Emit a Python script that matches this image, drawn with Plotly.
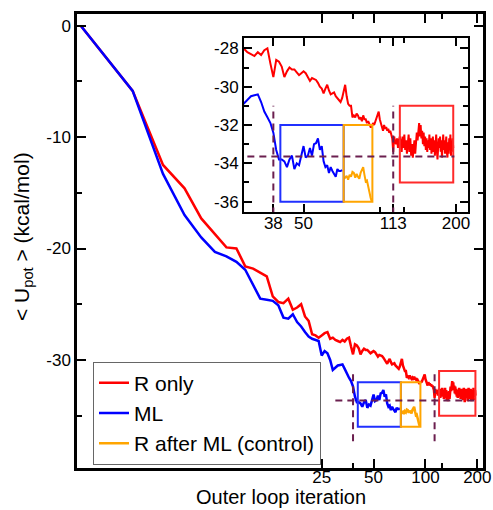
import plotly.graph_objects as go
import math

# ---------------- data ----------------
# "R only": outer-loop iterations 1..195
red_y = [
    0.0, -5.85, -12.5, -14.6, -17.3, -18.7, -19.9, -20.0, -21.6, -21.8,
    -22.2, -22.5, -24.3, -24.8, -24.9, -24.5, -25.5, -25.3, -25.0, -26.1,
    -26.5, -27.7, -27.8, -28.0, -27.8, -27.6, -27.5, -28.1, -28.0, -28.2,
    -28.3, -28.4, -28.2, -28.35, -28.1, -28.0, -28.8, -29.5, -28.6, -28.7,
    -28.95, -29.5, -29.2, -29.0, -29.1, -29.1, -29.25, -29.4, -29.3, -29.2,
    -29.3, -29.5, -29.7, -29.55, -29.6, -29.65, -29.8, -30.0, -30.1, -30.35,
    -30.1, -29.9, -30.2, -30.4, -30.35, -30.3, -30.5, -30.6, -30.7, -30.8,
    -30.6, -30.2, -29.9, -30.5, -30.9, -31.0, -31.0, -31.6, -31.5, -31.6,
    -31.4, -31.5, -31.7, -31.6, -31.8, -31.5, -31.7, -31.7, -31.9, -31.8,
    -32.0, -32.1, -32.1, -31.9, -32.0, -31.8, -31.7, -31.5, -31.3, -31.7,
    -32.0, -32.1, -32.3, -32.0, -32.2, -32.1, -32.3, -32.2, -32.4, -32.3,
    -32.5, -32.7, -33.4, -32.6, -32.9, -33.0, -32.7, -33.2, -32.8, -32.6,
    -32.9, -33.4, -32.6, -33.2, -32.5, -33.3, -32.8, -33.5, -33.0, -32.5,
    -33.4, -32.7, -33.6, -33.0, -33.7, -33.1, -32.8, -33.5, -32.6, -32.4,
    -32.8, -32.2, -31.9, -32.6, -32.0, -32.7, -32.3, -33.0, -32.4, -33.1,
    -32.6, -33.3, -32.7, -33.4, -32.8, -33.2, -32.5, -33.3, -32.7, -33.5,
    -32.9, -32.6, -33.4, -32.8, -33.6, -33.0, -32.5, -33.3, -33.8, -33.2,
    -32.7, -33.2, -32.6, -33.4, -32.8, -33.7, -32.9, -32.5, -33.3, -32.8,
    -33.5, -32.9, -32.6, -33.4, -33.7, -32.9, -33.5, -32.7, -33.3, -32.5,
    -33.6, -32.9, -33.4, -32.7, -33.2,
]
# "ML": iterations 1..71
blue_y = [
    0.0, -5.85, -13.3, -17.0, -19.0, -20.3, -20.7, -21.2, -21.9, -23.3,
    -24.5, -24.6, -24.7, -25.1, -26.2, -26.3, -25.9, -26.6, -27.0, -27.5,
    -27.9, -28.1, -28.2, -28.3, -29.6, -29.2, -29.4, -30.0, -30.9, -30.7,
    -30.5, -30.45, -30.4, -30.8, -31.3, -31.6, -31.9, -32.4, -33.3, -33.8,
    -33.8, -33.9, -34.2, -33.8, -33.6, -34.3, -34.0, -34.1, -33.6, -33.1,
    -33.7, -33.6, -33.2, -33.6, -33.0, -32.95, -32.7, -33.3, -33.1, -33.9,
    -34.2, -34.1, -34.5, -34.2, -34.4, -34.6, -34.7, -34.3, -34.4, -34.4,
    -34.35,
]
# "R after ML (control)": iterations 72..93
orange_start = 72
orange_y = [
    -34.8, -34.75, -34.65, -34.85, -34.6, -34.7, -34.45, -34.5, -34.75, -34.55,
    -34.7, -34.8, -34.5, -34.3, -34.2, -34.6, -34.95, -34.9, -35.3, -35.5,
    -35.8, -36.0,
]

red_x = list(range(1, len(red_y) + 1))
blue_x = list(range(1, len(blue_y) + 1))
orange_x = list(range(orange_start, orange_start + len(orange_y)))

series_names = ["R only", "ML", "R after ML (control)"]
series_colors = ["#ff0000", "#0000ff", "#ffa500"]

# highlight boxes (x0, x1, y0, y1)
box_x0 = [40.5, 72, 120]
box_x1 = [72, 93.5, 195]
box_y0 = [-36, -36, -35]
box_y1 = [-32, -32, -31]
box_colors = ["#2030ff", "#ffa500", "#ff2a2a"]

# dashed reference lines
vline_x = [38, 113]
vline_y = [-37.3, -31.0]
hline_y = -33.65
hline_x = [30, 197]
ref_color = "#6b1f4f"

# axis ticks
main_xticks = [25, 50, 100, 200]
main_xminor = [38, 125]
main_yticks = [0, -10, -20, -30]
main_yminor = [-5, -15, -25, -35]
inset_xticks = [38, 50, 113, 200]
inset_xminor = [100, 125]
inset_yticks = [-28, -30, -32, -34, -36]
inset_yminor = [-29, -31, -33, -35]

FONT = "Liberation Sans, Arial, sans-serif"

fig = go.Figure()

xs = [red_x, blue_x, orange_x]
ys = [red_y, blue_y, orange_y]
for name, col, x, y in zip(series_names, series_colors, xs, ys):
    fig.add_trace(go.Scatter(x=x, y=y, mode="lines", name=name,
                             line=dict(color=col, width=2.5),
                             xaxis="x", yaxis="y"))
for name, col, x, y in zip(series_names, series_colors, xs, ys):
    fig.add_trace(go.Scatter(x=x, y=y, mode="lines", name=name, showlegend=False,
                             line=dict(color=col, width=2),
                             xaxis="x2", yaxis="y2"))

shapes = []
for xr, yr, lw in (("x", "y", 2), ("x2", "y2", 2)):
    for x0, x1, y0, y1, c in zip(box_x0, box_x1, box_y0, box_y1, box_colors):
        shapes.append(dict(type="rect", xref=xr, yref=yr, x0=x0, x1=x1, y0=y0, y1=y1,
                           line=dict(color=c, width=lw), fillcolor="rgba(0,0,0,0)",
                           layer="above"))
    for vx in vline_x:
        shapes.append(dict(type="line", xref=xr, yref=yr, x0=vx, x1=vx,
                           y0=vline_y[0], y1=vline_y[1],
                           line=dict(color=ref_color, width=2, dash="7px,5px")))
    shapes.append(dict(type="line", xref=xr, yref=yr, x0=hline_x[0], x1=hline_x[1],
                       y0=hline_y, y1=hline_y,
                       line=dict(color=ref_color, width=2, dash="7px,5px")))

W, H = 493, 510
ML_, MR_, MT_, MB_ = 77, 10, 14, 42
pw, ph = W - ML_ - MR_, H - MT_ - MB_


def px_to_xdom(px):
    return (px - ML_) / pw


def px_to_ydom(py):
    return (H - MB_ - py) / ph


axis_common = dict(showline=True, linecolor="black", mirror="ticks", ticks="inside",
                   tickcolor="black", showgrid=False, zeroline=False, automargin=False,
                   tickfont=dict(family=FONT, size=17, color="black"))

fig.update_layout(
    width=W, height=H,
    margin=dict(l=ML_, r=MR_, t=MT_, b=MB_, autoexpand=False),
    paper_bgcolor="white", plot_bgcolor="white",
    font=dict(family=FONT, color="black"),
    shapes=shapes,
    xaxis=dict(type="log", range=[-0.022, 2.334], domain=[0, 1],
               tickmode="array", tickvals=main_xticks,
               ticktext=[str(v) for v in main_xticks],
               ticklen=9, tickwidth=2, linewidth=2.5, ticklabelstandoff=-8,
               minor=dict(tickmode="array", tickvals=main_xminor, ticks="inside",
                          ticklen=5, tickwidth=2, tickcolor="black"),
               anchor="y", **axis_common),
    yaxis=dict(range=[-39.7, 1.05], domain=[0, 1],
               tickmode="array", tickvals=main_yticks,
               ticktext=[str(v) for v in main_yticks],
               ticklen=9, tickwidth=2, linewidth=2.5,
               minor=dict(tickmode="array", tickvals=main_yminor, ticks="inside",
                          ticklen=5, tickwidth=2, tickcolor="black"),
               anchor="x", **axis_common),
    xaxis2=dict(type="log", range=[math.log10(29.1), math.log10(223)],
                domain=[px_to_xdom(244), px_to_xdom(468)],
                tickmode="array", tickvals=inset_xticks,
                ticktext=[str(v) for v in inset_xticks],
                ticklen=8, tickwidth=2, linewidth=2, ticklabelstandoff=-5,
                minor=dict(tickmode="array", tickvals=inset_xminor, ticks="inside",
                           ticklen=5, tickwidth=2, tickcolor="black"),
                anchor="y2", **axis_common),
    yaxis2=dict(range=[-36.54, -27.46],
                domain=[px_to_ydom(212), px_to_ydom(38)],
                tickmode="array", tickvals=inset_yticks,
                ticktext=[str(v) for v in inset_yticks],
                ticklen=8, tickwidth=2, linewidth=2,
                minor=dict(tickmode="array", tickvals=inset_yminor, ticks="inside",
                           ticklen=5, tickwidth=2, tickcolor="black"),
                anchor="x2", **axis_common),
    legend=dict(x=px_to_xdom(93), y=px_to_ydom(413), xanchor="left", yanchor="middle",
                bgcolor="white", bordercolor="#666666", borderwidth=1,
                font=dict(family=FONT, size=21, color="black"),
                tracegroupgap=0, itemwidth=30),
    showlegend=True,
    annotations=[
        dict(text="Outer loop iteration", xref="paper", yref="paper",
             x=px_to_xdom(281), y=px_to_ydom(497), xanchor="center", yanchor="middle",
             showarrow=False, borderpad=0,
             font=dict(family=FONT, size=20, color="black")),
        dict(text="&lt; U<sub>pot</sub> &gt; (kcal/mol)", xref="paper", yref="paper",
             x=px_to_xdom(23), y=px_to_ydom(237), xanchor="center", yanchor="middle",
             textangle=-90, showarrow=False,
             font=dict(family=FONT, size=21, color="black")),
    ],
)

fig.write_html("out.html")
